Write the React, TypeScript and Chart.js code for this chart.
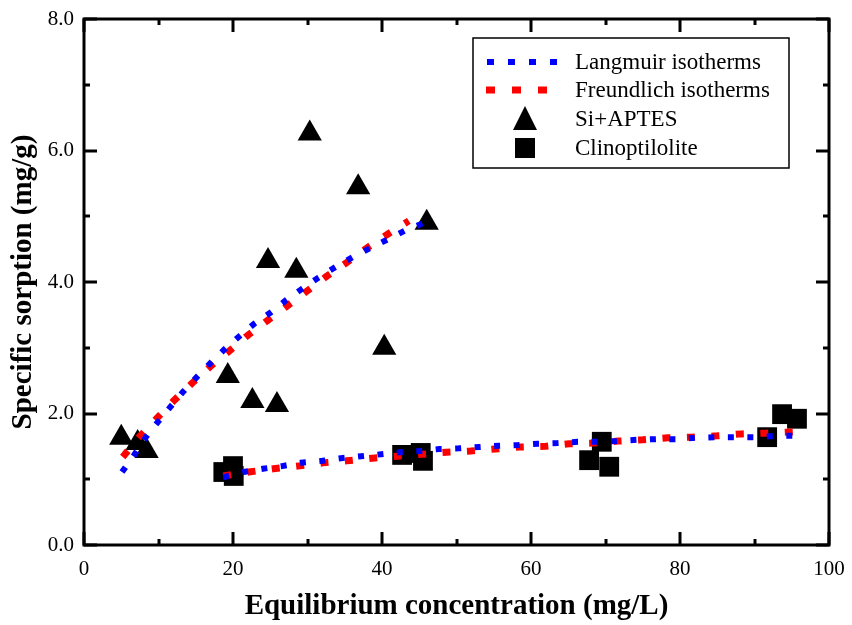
import React, { useEffect, useRef } from "react";
import { Chart, registerables } from "chart.js";

Chart.register(...registerables);

// Measured data: Si+APTES (triangles)
const siX = [5.0, 7.2, 8.4, 19.3, 22.6, 25.9, 24.7, 28.5, 30.3, 36.8, 40.3, 46.0];
const siY = [1.63, 1.55, 1.43, 2.57, 2.19, 2.13, 4.32, 4.17, 6.26, 5.44, 3.0, 4.9];

// Measured data: Clinoptilolite (squares)
const clX = [18.7, 20.0, 20.1, 42.7, 45.2, 45.5, 67.8, 69.5, 70.5, 91.7, 93.7, 95.7];
const clY = [1.11, 1.2, 1.05, 1.37, 1.4, 1.28, 1.29, 1.57, 1.19, 1.64, 1.99, 1.92];

// Langmuir fit, Si+APTES
const langSiX = [5.1, 6.8, 8.3, 9.9, 11.6, 13.3, 15.1, 17.0, 18.9, 20.9, 22.9, 25.1, 27.2, 29.3, 31.5, 33.8, 36.1, 38.5, 40.8, 43.2, 45.9];
const langSiY = [1.11, 1.38, 1.64, 1.87, 2.1, 2.33, 2.55, 2.77, 2.98, 3.18, 3.37, 3.54, 3.73, 3.9, 4.07, 4.23, 4.38, 4.52, 4.65, 4.79, 4.91];

// Freundlich fit, Si+APTES
const freSiX = [5.2, 7.4, 9.8, 12.1, 14.5, 16.9, 19.5, 22.0, 24.7, 27.2, 29.9, 32.6, 35.3, 38.0, 40.8, 43.6];
const freSiY = [1.34, 1.64, 1.93, 2.2, 2.46, 2.71, 2.95, 3.19, 3.42, 3.63, 3.86, 4.09, 4.3, 4.52, 4.73, 4.93];

// Langmuir fit, Clinoptilolite
const langClX = [18.7, 21.4, 24.0, 26.6, 29.1, 32.0, 34.5, 37.2, 39.9, 42.4, 45.1, 47.7, 50.3, 53.0, 55.7, 58.3, 60.9, 63.6, 66.3, 68.9, 71.5, 74.2, 76.8, 79.5, 82.1, 84.8, 87.5, 90.1, 92.8, 95.4];
const langClY = [1.03, 1.11, 1.16, 1.2, 1.25, 1.28, 1.32, 1.35, 1.38, 1.41, 1.43, 1.46, 1.47, 1.49, 1.51, 1.52, 1.54, 1.55, 1.57, 1.57, 1.58, 1.6, 1.61, 1.61, 1.63, 1.64, 1.64, 1.64, 1.66, 1.66];

// Freundlich fit, Clinoptilolite
const freClX = [18.7, 22.1, 25.4, 28.7, 32.1, 35.3, 38.7, 42.0, 45.4, 48.6, 51.9, 55.2, 58.5, 61.9, 65.1, 68.3, 71.7, 75.0, 78.4, 81.6, 85.0, 88.3, 91.5, 95.2];
const freClY = [1.05, 1.11, 1.16, 1.2, 1.25, 1.28, 1.32, 1.35, 1.38, 1.41, 1.43, 1.46, 1.49, 1.5, 1.54, 1.55, 1.58, 1.6, 1.63, 1.64, 1.66, 1.69, 1.7, 1.72];

const legendLabels = ["Langmuir isotherms", "Freundlich isotherms", "Si+APTES", "Clinoptilolite"];

const xTicks = [0, 20, 40, 60, 80, 100];
const yTicks = [0, 2, 4, 6, 8];

const FONT = "'Liberation Serif', 'Times New Roman', serif";
const BLUE = "#0000ff";
const RED = "#ff0000";

const pts = (xs: number[], ys: number[]) => xs.map((x, i) => ({ x, y: ys[i] }));

const framePlugin = {
  id: "frame",
  afterDatasetsDraw(chart: any) {
    const { ctx, chartArea: a, scales } = chart;
    const xs = scales.x;
    const ys = scales.y;
    ctx.save();
    ctx.strokeStyle = "#000";
    ctx.lineWidth = 3;
    ctx.lineCap = "butt";
    ctx.beginPath();
    for (let v = 0; v <= 100; v += 10) {
      const px = Math.round(xs.getPixelForValue(v));
      const len = v % 20 === 0 ? 13 : 6;
      ctx.moveTo(px, a.bottom);
      ctx.lineTo(px, a.bottom - len);
      ctx.moveTo(px, a.top);
      ctx.lineTo(px, a.top + len);
    }
    for (let v = 0; v <= 8; v += 1) {
      const py = Math.round(ys.getPixelForValue(v));
      const len = v % 2 === 0 ? 13 : 6;
      ctx.moveTo(a.left, py);
      ctx.lineTo(a.left + len, py);
      ctx.moveTo(a.right, py);
      ctx.lineTo(a.right - len, py);
    }
    ctx.stroke();
    ctx.strokeRect(a.left, a.top, a.right - a.left, a.bottom - a.top);
    ctx.restore();
  },
  afterDraw(chart: any) {
    const { ctx } = chart;
    ctx.save();
    const bx = 473, by = 38, bw = 316, bh = 130;
    ctx.fillStyle = "#fff";
    ctx.fillRect(bx, by, bw, bh);
    ctx.strokeStyle = "#000";
    ctx.lineWidth = 1.5;
    ctx.strokeRect(bx, by, bw, bh);
    const rows = [62, 90, 119, 148];
    const sx0 = 487, sx1 = 560, tx = 575;
    ctx.lineWidth = 6;
    ctx.strokeStyle = BLUE;
    ctx.setLineDash([7, 14]);
    ctx.beginPath();
    ctx.moveTo(sx0, rows[0]);
    ctx.lineTo(sx1, rows[0]);
    ctx.stroke();
    ctx.lineWidth = 7;
    ctx.strokeStyle = RED;
    ctx.setLineDash([9, 17]);
    ctx.beginPath();
    ctx.moveTo(sx0 - 1, rows[1]);
    ctx.lineTo(sx1, rows[1]);
    ctx.stroke();
    ctx.setLineDash([]);
    const mx = 525;
    ctx.fillStyle = "#000";
    ctx.beginPath();
    ctx.moveTo(mx, rows[2] - 13);
    ctx.lineTo(mx + 12, rows[2] + 11);
    ctx.lineTo(mx - 12, rows[2] + 11);
    ctx.closePath();
    ctx.fill();
    ctx.fillRect(mx - 10, rows[3] - 10, 20, 20);
    ctx.fillStyle = "#000";
    ctx.font = `23px ${FONT}`;
    ctx.textBaseline = "middle";
    ctx.textAlign = "left";
    legendLabels.forEach((t, i) => ctx.fillText(t, tx, rows[i] + 1));
    ctx.restore();
  },
};

export default function App() {
  const ref = useRef<HTMLCanvasElement | null>(null);
  useEffect(() => {
    if (!ref.current) return;
    const lineBase = { showLine: true, borderCapStyle: "butt", pointRadius: 0, fill: false };
    const chart = new Chart(ref.current, {
      type: "scatter",
      data: {
        datasets: [
          { ...lineBase, label: legendLabels[0], data: pts(langSiX, langSiY), borderColor: BLUE, borderWidth: 6, borderDash: [6, 13.5], order: 0 } as any,
          { ...lineBase, label: legendLabels[0], data: pts(langClX, langClY), borderColor: BLUE, borderWidth: 6, borderDash: [6, 13.5], order: 0 } as any,
          { ...lineBase, label: legendLabels[1], data: pts(freSiX, freSiY), borderColor: RED, borderWidth: 7, borderDash: [8, 16.5], order: 1 } as any,
          { ...lineBase, label: legendLabels[1], data: pts(freClX, freClY), borderColor: RED, borderWidth: 7, borderDash: [8, 16.5], order: 1 } as any,
          {
            label: legendLabels[2],
            data: pts(siX, siY),
            pointStyle: "triangle",
            pointRadius: 14,
            backgroundColor: "#000",
            borderColor: "#000",
            borderWidth: 0,
            order: 2,
          } as any,
          {
            label: legendLabels[3],
            data: pts(clX, clY),
            pointStyle: "rect",
            pointRadius: 14,
            backgroundColor: "#000",
            borderColor: "#000",
            borderWidth: 0,
            order: 2,
          } as any,
        ],
      },
      options: {
        animation: false,
        responsive: false,
        events: [],
        layout: { padding: { top: 19, right: 23, left: 0, bottom: 0 } },
        plugins: { legend: { display: false }, tooltip: { enabled: false } },
        scales: {
          x: {
            type: "linear",
            min: 0,
            max: 100,
            afterFit: (s: any) => {
              s.height = 80;
              s.paddingLeft = 0;
              s.paddingRight = 0;
            },
            afterBuildTicks: (s: any) => {
              s.ticks = xTicks.map((v) => ({ value: v }));
            },
            grid: { display: false, drawTicks: false },
            border: { display: false },
            ticks: {
              color: "#000",
              font: { family: FONT, size: 21 },
              padding: 12,
              maxRotation: 0,
              callback: (v: any) => String(v),
            },
            title: {
              display: true,
              text: "Equilibrium concentration (mg/L)",
              color: "#000",
              font: { family: FONT, size: 29, weight: "bold" },
              padding: { top: 0, bottom: 1 },
            },
          },
          y: {
            type: "linear",
            min: 0,
            max: 8,
            afterFit: (s: any) => {
              s.width = 84;
              s.paddingTop = 0;
              s.paddingBottom = 0;
            },
            afterBuildTicks: (s: any) => {
              s.ticks = yTicks.map((v) => ({ value: v }));
            },
            grid: { display: false, drawTicks: false },
            border: { display: false },
            ticks: {
              color: "#000",
              font: { family: FONT, size: 21 },
              padding: 10,
              callback: (v: any) => Number(v).toFixed(1),
            },
            title: {
              display: true,
              text: "Specific sorption (mg/g)",
              color: "#000",
              font: { family: FONT, size: 29, weight: "bold" },
              padding: { top: 6, bottom: 0 },
            },
          },
        },
      } as any,
      plugins: [framePlugin],
    });
    return () => chart.destroy();
  }, []);
  return (
    <div style={{ position: "fixed", left: 0, top: 0, width: 852, height: 625, background: "#fff" }}>
      <canvas ref={ref} width={852} height={625} style={{ width: 852, height: 625, display: "block" }} />
    </div>
  );
}
